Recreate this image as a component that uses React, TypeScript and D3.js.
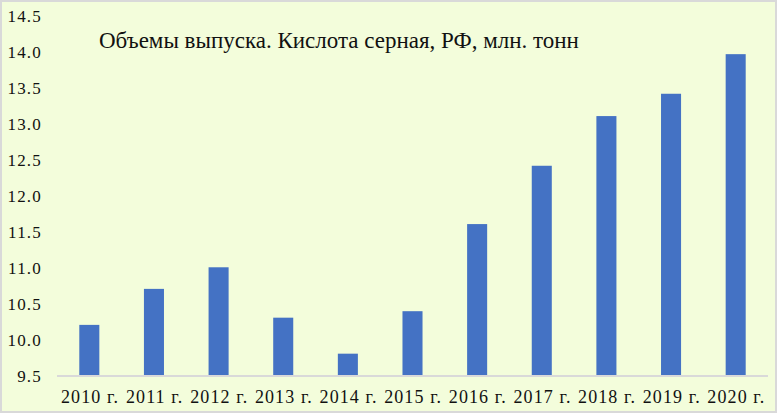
import React from "react";
import * as d3 from "d3";

const categories = ["2010 г.", "2011 г.", "2012 г.", "2013 г.", "2014 г.", "2015 г.", "2016 г.", "2017 г.", "2018 г.", "2019 г.", "2020 г."];
const values = [10.21, 10.71, 11.01, 10.31, 9.81, 10.4, 11.61, 12.42, 13.11, 13.42, 13.97];
const yTicks = [9.5, 10.0, 10.5, 11.0, 11.5, 12.0, 12.5, 13.0, 13.5, 14.0, 14.5];
const title = "Объемы выпуска. Кислота серная, РФ, млн. тонн";

const W = 777;
const H = 413;
const FONT = "'Liberation Serif', 'Times New Roman', serif";

export default function App() {
  const x = d3.scaleBand<string>().domain(categories).range([57, 768]).paddingInner(0.69).paddingOuter(0.345);
  const y = d3.scaleLinear().domain([9.5, 14.5]).range([376, 16]);
  return (
    <svg width={W} height={H} style={{ position: "absolute", left: 0, top: 0, display: "block" }}>
      <rect x={1} y={1} width={W - 2} height={H - 2} fill="#F3FDDB" stroke="#D9D9D9" strokeWidth={2} />
      <text x={99} y={48} fontFamily={FONT} fontSize={23} fill="#111">{title}</text>
      {yTicks.map((t) => (
        <text key={t} x={42} y={y(t)} dy="0.35em" textAnchor="end" fontFamily={FONT} fontSize={17} letterSpacing={1.2} fill="#111">
          {d3.format(".1f")(t)}
        </text>
      ))}
      {categories.map((c, i) => (
        <rect key={c} x={x(c)} y={y(values[i])} width={x.bandwidth()} height={y(9.5) - y(values[i])} fill="#4472C4" />
      ))}
      <line x1={57} x2={768} y1={376} y2={376} stroke="#D9D9D9" strokeWidth={2} />
      {categories.map((c) => (
        <text key={c} x={(x(c) as number) + x.bandwidth() / 2 + 0.7} y={403} textAnchor="middle" fontFamily={FONT} fontSize={18} letterSpacing={1.1} fill="#111">
          {c}
        </text>
      ))}
    </svg>
  );
}
